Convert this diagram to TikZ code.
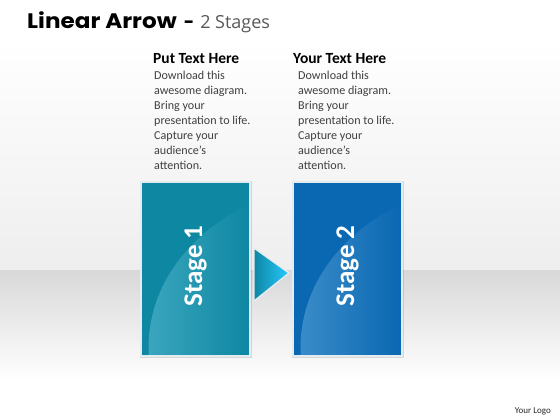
\documentclass[tikz,border=0pt]{standalone}
\usepackage{fontspec}
\setmainfont{Carlito}
\newfontfamily\titlefont{Poppins}
\newfontfamily\subfont{Open Sans}
\usetikzlibrary{shadows}
\definecolor{teal1}{HTML}{0E87A3}
\definecolor{teal1l}{HTML}{3CA6BE}
\definecolor{blue2}{HTML}{0A67B2}
\definecolor{blue2l}{HTML}{3B8DC8}
\definecolor{bandgray}{HTML}{D8D8D8}
\definecolor{topgray}{HTML}{EEEEEE}
\definecolor{headgray}{HTML}{595959}
\definecolor{bodygray}{HTML}{404040}
\definecolor{edge}{HTML}{E4ECEF}
\tikzset{
  stagebox/.style={minimum width=109pt, minimum height=174pt, inner sep=0pt},
  boxrim/.style={draw=edge, line width=2.2pt},
  stagelabel/.style={rotate=90, text=white, font=\bfseries\fontsize{27}{27}\selectfont},
  headtxt/.style={anchor=north west, font=\bfseries\fontsize{15.5}{16}\selectfont, text=black, inner sep=0pt},
  bodytxt/.style={anchor=north west, align=left, font=\fontsize{12.1}{15}\selectfont, text=bodygray, inner sep=0pt},
}
\begin{document}
\begin{tikzpicture}[x=1pt,y=-1pt]
\useasboundingbox (0,0) rectangle (560,420);
% background
\fill[white] (0,0) rectangle (560,420);
\shade[top color=white, bottom color=topgray] (0,40) rectangle (560,270);
\shade[top color=bandgray, bottom color=white] (0,270) rectangle (560,380);
\fill[white] (0,380) rectangle (560,420);
% title
\node[anchor=base west, inner sep=0pt] (title) at (27,29) {\scalebox{1.1}[1]{\titlefont\bfseries\fontsize{21}{24}\selectfont Linear Arrow}\hspace{7pt}{\titlefont\bfseries\fontsize{18}{18}\selectfont -}\hspace{6pt}{\subfont\color{headgray}\fontsize{18}{20}\selectfont 2 Stages}};
% text columns
\node[headtxt] (h1) at (153,53) {Put Text Here};
\node[bodytxt] (b1) at (154,71) {Download this\\awesome diagram.\\Bring your\\presentation to life.\\Capture your\\audience's\\attention.};
\node[headtxt] (h2) at (293,53) {Your Text Here};
\node[bodytxt] (b2) at (298,71) {Download this\\awesome diagram.\\Bring your\\presentation to life.\\Capture your\\audience's\\attention.};
% shadows
\fill[black, opacity=0.12] (140,181) rectangle (252,358);
\fill[black, opacity=0.12] (292,181) rectangle (404,358);
% stage boxes
\node[stagebox, fill=teal1] (s1) at (195.5,269) {};
\node[stagebox, fill=blue2] (s2) at (347.5,269) {};
% highlight curves
\shade[left color=teal1l, right color=teal1] ([xshift=8pt]s1.south west) .. controls ([xshift=4pt,yshift=65pt]s1.south west) and ([xshift=45pt,yshift=122pt]s1.south west) .. ([yshift=-22pt]s1.north east) -- (s1.south east) -- cycle;
\shade[left color=blue2l, right color=blue2] ([xshift=8pt]s2.south west) .. controls ([xshift=4pt,yshift=65pt]s2.south west) and ([xshift=45pt,yshift=122pt]s2.south west) .. ([yshift=-22pt]s2.north east) -- (s2.south east) -- cycle;
\draw[boxrim] (s1.south west) rectangle (s1.north east);
\draw[boxrim] (s2.south west) rectangle (s2.north east);
\node[stagelabel] (l1) at ([yshift=3pt]s1.center) {Stage 1};
\node[stagelabel] (l2) at ([yshift=3pt]s2.center) {Stage 2};
% arrow
\coordinate (a1) at (254,248);
\coordinate (a2) at (289,273);
\coordinate (a3) at (254,301);
\shade[left color=teal1, right color=cyan!75!blue!85!white] (a1) -- (a2) -- (a3) -- cycle;
\draw[edge, line width=1.4pt, line join=miter] (a1) -- (a2) -- (a3) -- cycle;
% logo
\node[anchor=base east, inner sep=0pt, font=\fontsize{9}{10}\selectfont, text=black!85] (logo) at (551,413) {Your Logo};
\end{tikzpicture}
\end{document}
